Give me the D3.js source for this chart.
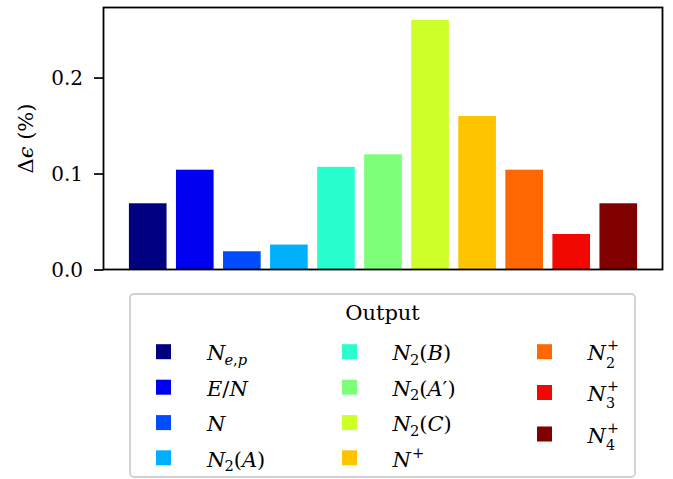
<!DOCTYPE html>
<html><head><meta charset="utf-8">
<script src="https://cdn.jsdelivr.net/npm/d3@7"></script>
<style>
  body { margin: 0; background: #fff; }
  svg { display: block; }
  text { font-family: "DejaVu Serif", serif; fill: #000; }
</style>
</head><body>
<svg id="chart" width="673" height="479"></svg>
<script>
// Outputs (TeX-style names), their change in epsilon (%) and bar colours (jet)
const categories = ["N_{e,p}", "E/N", "N", "N_2(A)", "N_2(B)", "N_2(A')", "N_2(C)", "N^+", "N_2^+", "N_3^+", "N_4^+"];
const values = [0.069, 0.104, 0.019, 0.026, 0.107, 0.120, 0.260, 0.160, 0.104, 0.037, 0.069];
const colors = ["#000080", "#0000f1", "#004cff", "#00b0ff", "#29ffce", "#7dff7a", "#ceff29", "#ffc400", "#ff6800", "#f10800", "#800000"];
const yTicks = [0.0, 0.1, 0.2];
const legendTitle = "Output";
const legendColumns = [[0, 1, 2, 3], [4, 5, 6, 7], [8, 9, 10]];

const svg = d3.select("#chart");
const plot = { left: 103.5, right: 662.5, top: 7.5, bottom: 269.5 };

const x = d3.scaleBand()
  .domain(categories)
  .range([plot.left, plot.right])
  .paddingInner(0.2)
  .paddingOuter(0.54);

const y = d3.scaleLinear()
  .domain([0, d3.max(values) * 1.05])
  .range([plot.bottom, plot.top]);

// bars
svg.append("g").selectAll("rect")
  .data(categories)
  .join("rect")
  .attr("x", d => x(d))
  .attr("width", x.bandwidth())
  .attr("y", (d, i) => y(values[i]))
  .attr("height", (d, i) => y(0) - y(values[i]))
  .attr("fill", (d, i) => colors[i]);

// y axis
const yAxis = svg.append("g")
  .attr("transform", `translate(${plot.left},0)`)
  .call(d3.axisLeft(y).tickValues(yTicks).tickFormat(d3.format(".1f")).tickSize(9.5).tickPadding(11));
yAxis.select(".domain").remove();
yAxis.selectAll(".tick line").attr("stroke", "#000").attr("stroke-width", 1.7);
yAxis.selectAll(".tick text")
  .attr("dy", "0.36em")
  .style("font-family", "'DejaVu Serif', serif")
  .style("font-size", "20px");

// frame
svg.append("rect")
  .attr("x", plot.left).attr("y", plot.top)
  .attr("width", plot.right - plot.left).attr("height", plot.bottom - plot.top)
  .attr("fill", "none").attr("stroke", "#000").attr("stroke-width", 1.8);

// y label: Δϵ (%)
const yl = svg.append("text")
  .attr("transform", "translate(33,138.5) rotate(-90)")
  .attr("text-anchor", "middle")
  .style("font-size", "21px");
yl.append("tspan").text("Δ");
yl.append("tspan").style("font-style", "italic").text("ϵ");
yl.append("tspan").text(" (%)");

// --- small TeX-like label renderer (one <text> per label, tspans for scripts) ---
function parseTex(s) {
  const atoms = [];
  let i = 0;
  const readGroup = () => {
    if (s[i] === "{") { const j = s.indexOf("}", i); const g = s.slice(i + 1, j); i = j + 1; return g; }
    return s[i++];
  };
  while (i < s.length) {
    const c = s[i];
    if (c === "_" || c === "^") {
      i++;
      const g = readGroup();
      const a = atoms[atoms.length - 1];
      if (c === "_") a.sub = g; else a.sup = g;
    } else if (c === "'") {
      atoms.push({ base: "′" }); i++;
    } else {
      atoms.push({ base: c }); i++;
    }
  }
  return atoms;
}

function drawTex(g, s, x0, y0, fs) {
  const t = g.append("text").attr("x", x0).attr("y", y0).style("font-size", fs + "px");
  let off = 0; // current vertical offset from baseline
  // append chars of a run; first tspan gets the shift
  const run = (str, size, target, dx) => {
    let first = true, w = 0;
    for (const ch of str) {
      const sp = t.append("tspan")
        .style("font-size", size + "px")
        .style("font-style", /[A-Za-z]/.test(ch) ? "italic" : "normal")
        .text(ch);
      if (first) {
        sp.attr("dy", target - off);
        if (dx) sp.attr("dx", dx);
        off = target;
        first = false;
      }
      w += sp.node().getComputedTextLength();
    }
    return w;
  };
  for (const a of parseTex(s)) {
    run(a.base, fs, 0, 0);
    if (a.sub && a.sup) {
      // stacked: superscript raised, subscript placed beneath it
      const ss = fs * 0.68;
      const w1 = run(a.sup, ss, -0.48 * fs, 1);
      run(a.sub, ss, 0.34 * fs, -w1 - 1);
    } else if (a.sub) {
      run(a.sub, fs * 0.7, 0.2 * fs, -1);
    } else if (a.sup) {
      run(a.sup, fs * 0.7, -0.42 * fs, 1);
    }
  }
}

// legend
const legend = svg.append("g");
legend.append("rect")
  .attr("x", 130).attr("y", 294).attr("width", 505).attr("height", 183)
  .attr("rx", 4)
  .attr("fill", "#fff").attr("stroke", "#d0d0d0").attr("stroke-width", 1.8);
legend.append("text")
  .attr("x", 382.5).attr("y", 320)
  .attr("text-anchor", "middle")
  .style("font-size", "21px")
  .text(legendTitle);

const swatchX = [156, 342, 537];
const labelX = [207, 392.5, 587.5];
const rowY = [
  [351.7, 387.2, 422.6, 457.8],
  [351.7, 387.2, 422.6, 457.8],
  [351.7, 392.5, 434]
];
const sw = 15;
legendColumns.forEach((col, c) => {
  col.forEach((idx, r) => {
    const cy = rowY[c][r];
    legend.append("rect")
      .attr("x", swatchX[c]).attr("y", cy - sw / 2)
      .attr("width", sw).attr("height", sw)
      .attr("fill", colors[idx]);
    drawTex(legend, categories[idx], labelX[c], cy + 8.7, 21);
  });
});
</script>
</body></html>
